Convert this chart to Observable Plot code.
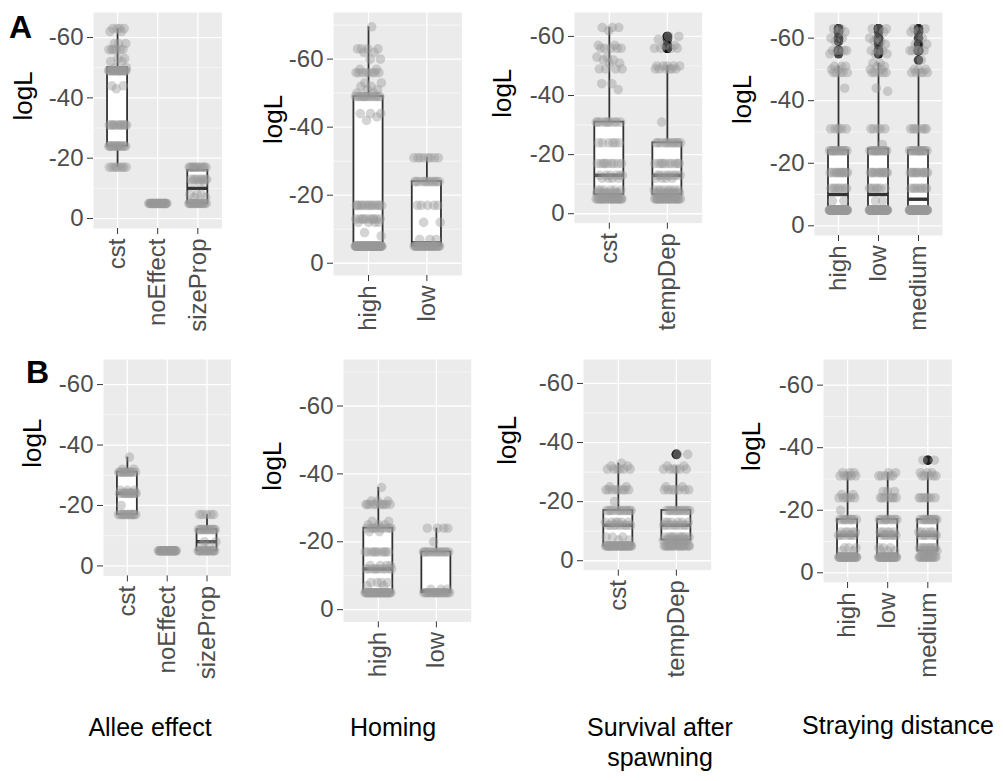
<!DOCTYPE html>
<html><head><meta charset="utf-8">
<script src="https://cdn.jsdelivr.net/npm/d3@7"></script>
<script src="https://cdn.jsdelivr.net/npm/@observablehq/plot@0.6"></script>
<style>
body{margin:0;background:#fff}
#root{position:relative;width:1003px;height:781px;overflow:hidden;background:#fff}
.pp{position:absolute}
.pp svg{overflow:visible;background:transparent;max-width:none !important}
#overlay{position:absolute;left:0;top:0}
</style></head><body><div id="root"></div>
<script>
// ---------- data: [logL value, number of runs] ----------
// Row A
const allee_A_cst      = [[-63,4],[-62,2],[-58,3],[-56,6],[-53,2],[-52,2],[-50,2],[-49,22],[-44,2],[-43,1],[-31,12],[-24,15],[-17,8]];
const allee_A_noEffect = [[-5,30]];
const allee_A_sizeProp = [[-17,12],[-13,8],[-12,3],[-8,3],[-7,2],[-5,18]];
const homing_A_high = [[-69.5,1],[-63,4],[-62,2],[-60,2],[-57,2],[-56,8],[-53,2],[-52,2],[-51,2],[-50,2],[-49,14],[-44,3],[-43,1],[-42,1],[-17,14],[-13,10],[-12,4],[-9,1],[-8,1],[-5,80]];
const homing_A_low  = [[-31,8],[-24,12],[-17,5],[-12,2],[-7,3],[-5,30]];
const survival_A_cst     = [[-63,3],[-62,1],[-57,2],[-56,5],[-53,2],[-52,2],[-51,2],[-49,4],[-44,2],[-42,1],[-31,10],[-24,6],[-17,9],[-13,6],[-12,4],[-8,6],[-7,10],[-5,25]];
const survival_A_tempDep = [[-60,2],[-59,1],[-57,2],[-56,4],[-50,5],[-49,6],[-31,1],[-24,12],[-17,10],[-13,8],[-12,4],[-8,8],[-7,12],[-5,25]];
const straying_A_high   = [[-63,2],[-62,2],[-60,2],[-59,1],[-56,5],[-55,1],[-51,3],[-50,2],[-49,5],[-44,1],[-31,6],[-24,14],[-17,12],[-12,8],[-8,2],[-5,62]];
const straying_A_low    = [[-63,3],[-62,1],[-60,2],[-59,2],[-58,1],[-56,3],[-55,2],[-52,2],[-51,2],[-50,2],[-49,5],[-44,1],[-43,1],[-31,5],[-26,1],[-24,14],[-17,12],[-12,7],[-8,2],[-5,64]];
const straying_A_medium = [[-63,2],[-62,2],[-60,1],[-58,2],[-56,5],[-53,1],[-50,3],[-49,5],[-31,7],[-24,14],[-17,12],[-12,8],[-5,62]];
// Row B
const allee_B_cst      = [[-36,1],[-32,2],[-31,12],[-25,3],[-24,12],[-20,1],[-17,14]];
const allee_B_noEffect = [[-5,30]];
const allee_B_sizeProp = [[-17,5],[-12,13],[-8,2],[-7,2],[-5,16]];
const homing_B_high = [[-36,1],[-32,3],[-31,10],[-26,2],[-25,3],[-24,10],[-23,2],[-17,10],[-13,4],[-12,10],[-8,4],[-7,2],[-5,35]];
const homing_B_low  = [[-24,4],[-20,1],[-17,14],[-6,3],[-5,22]];
const survival_B_cst     = [[-33,1],[-32,2],[-31,6],[-25,2],[-24,8],[-20,1],[-17,12],[-13,6],[-12,8],[-8,3],[-7,2],[-5,35]];
const survival_B_tempDep = [[-36,2],[-32,2],[-31,6],[-25,2],[-24,7],[-17,12],[-13,6],[-12,8],[-8,10],[-7,10],[-5,19]];
const straying_B_high   = [[-32,3],[-31,6],[-25,2],[-24,6],[-20,1],[-17,10],[-13,5],[-12,7],[-8,3],[-7,2],[-5,31]];
const straying_B_low    = [[-32,2],[-31,5],[-26,3],[-24,7],[-17,10],[-13,5],[-12,7],[-8,3],[-7,3],[-5,31]];
const straying_B_medium = [[-36,2],[-32,3],[-31,5],[-24,7],[-17,12],[-13,5],[-12,7],[-8,8],[-7,8],[-5,17]];

// category labels
const alleeCats    = ["cst","noEffect","sizeProp"];
const homingCats   = ["high","low"];
const survivalCats = ["cst","tempDep"];
const strayingCats = ["high","low","medium"];
// y ticks
const yMajor = [-60,-40,-20,0];
const yMinor = [-70,-50,-30,-10];
const yAxisTitle = "logL";
const rowLabels = ["A","B"];
const captions = [["Allee effect"],["Homing"],["Survival after","spawning"],["Straying distance"]];

// ---------- layout ----------
const ML = 95, MR = 4, MT = 4, MB = 125, JIT = 0.23, TICK_FONT = 24, TICK_FAMILY = "Liberation Sans";
const panels = [
  {cats: alleeCats,    series: [allee_A_cst, allee_A_noEffect, allee_A_sizeProp], left: 93.3,  top: 12,    w: 128.4, h: 216,   dom: [3.3,-68.3], lab: 70},
  {cats: homingCats,   series: [homing_A_high, homing_A_low],                     left: 333.3, top: 12,    w: 128.4, h: 263,   dom: [3.6,-73.7], lab: 60},
  {cats: survivalCats, series: [survival_A_cst, survival_A_tempDep],              left: 574,   top: 12,    w: 127.7, h: 210.7, dom: [3.2,-68.1], lab: 72},
  {cats: strayingCats, series: [straying_A_high, straying_A_low, straying_A_medium], left: 814.3, top: 12, w: 128,   h: 223,   dom: [3.1,-68.2], lab: 72},
  {cats: alleeCats,    series: [allee_B_cst, allee_B_noEffect, allee_B_sizeProp], left: 103.3, top: 359.3, w: 127.4, h: 216.4, dom: [3.3,-68.3], lab: 71},
  {cats: homingCats,   series: [homing_B_high, homing_B_low],                     left: 343.3, top: 359.3, w: 127.7, h: 262.4, dom: [3.6,-73.7], lab: 71},
  {cats: survivalCats, series: [survival_B_cst, survival_B_tempDep],              left: 583.3, top: 359.3, w: 127.7, h: 210.7, dom: [3.2,-68.1], lab: 76},
  {cats: strayingCats, series: [straying_B_high, straying_B_low, straying_B_medium], left: 823.3, top: 359.3, w: 128.4, h: 223, dom: [3.1,-68.2], lab: 72}
];

function makePlot(p) {
  const n = p.cats.length, idx = d3.range(n);
  const points = [], stats = [], outl = [];
  p.series.forEach((pairs, i) => {
    const vals = [];
    pairs.forEach(([v, c]) => { for (let k = 0; k < c; k++) vals.push(v); });
    vals.sort(d3.ascending);
    vals.forEach((v, k) => points.push({i, v, j: (((k + 1) * 0.6180339887 + i * 0.31) % 1 - 0.5) * 2 * JIT}));
    const q1 = d3.quantile(vals, 0.25), med = d3.quantile(vals, 0.5), q3 = d3.quantile(vals, 0.75);
    const iqr = q3 - q1, lo = q1 - 1.5 * iqr, hi = q3 + 1.5 * iqr;
    const inside = vals.filter(v => v >= lo && v <= hi);
    stats.push({i, q1, med, q3, lo: d3.min(inside), hi: d3.max(inside)});
    vals.filter(v => v < lo || v > hi).forEach(v => outl.push({i, v}));
  });
  const lo = Math.min(...p.dom), hi = Math.max(...p.dom);
  const minor = yMinor.filter(d => d >= lo && d <= hi);
  const axisMarks = typeof Plot.axisY === "function";
  const xOpts = {domain: [-0.6, n - 0.4], label: null};
  const yOpts = {domain: p.dom, label: null};
  const xAxisOpts = {ticks: idx, tickFormat: i => p.cats[i], tickRotate: -90, tickSize: 6, tickPadding: 4};
  const yAxisOpts = {ticks: yMajor, tickFormat: d => String(d), tickSize: 6, tickPadding: 4};
  if (!axisMarks) { Object.assign(xOpts, xAxisOpts); Object.assign(yOpts, yAxisOpts); }
  const marks = [
    Plot.frame({fill: "#EBEBEB", stroke: "none"}),
    Plot.ruleY(minor, {stroke: "white", strokeWidth: 0.6}),
    Plot.ruleY(yMajor, {stroke: "white", strokeWidth: 1.3}),
    Plot.ruleX(idx, {stroke: "white", strokeWidth: 1.3}),
    Plot.ruleX(stats, {x: "i", y1: "lo", y2: "q1", stroke: "#333", strokeWidth: 1.8}),
    Plot.ruleX(stats, {x: "i", y1: "q3", y2: "hi", stroke: "#333", strokeWidth: 1.8}),
    Plot.rect(stats, {x1: d => d.i - 0.25, x2: d => d.i + 0.25, y1: "q1", y2: "q3", fill: "white", stroke: "#333", strokeWidth: 1.8}),
    Plot.ruleY(stats, {y: "med", x1: d => d.i - 0.25, x2: d => d.i + 0.25, stroke: "#333", strokeWidth: 3.4}),
    Plot.dot(outl, {x: "i", y: "v", r: 4.8, fill: "#111", fillOpacity: 0.75, stroke: "none"}),
    Plot.dot(points, {x: d => d.i + d.j, y: "v", r: 4.8, fill: "#999", fillOpacity: 0.42, stroke: "none"}),
    Plot.text([yAxisTitle], {frameAnchor: "left", dx: -p.lab, rotate: -90, fontSize: 26, fill: "black", fontFamily: "Liberation Sans"})
  ];
  if (axisMarks) {
    marks.push(
      Plot.axisY(yMajor, {tickSize: 6, tickPadding: 4, tickFormat: d => String(d), fontSize: TICK_FONT, fontFamily: TICK_FAMILY, fill: "#4D4D4D", stroke: "#333", label: null}),
      Plot.axisX(idx, {tickSize: 6, tickPadding: 4, tickRotate: -90, tickFormat: i => p.cats[i], fontSize: TICK_FONT, fontFamily: TICK_FAMILY, fill: "#4D4D4D", stroke: "#333", label: null})
    );
  }
  return Plot.plot({
    width: ML + p.w + MR, height: MT + p.h + MB,
    marginLeft: ML, marginRight: MR, marginTop: MT, marginBottom: MB,
    style: {fontFamily: TICK_FAMILY, fontSize: TICK_FONT + "px", color: "#4D4D4D", background: "transparent", overflow: "visible"},
    x: xOpts, y: yOpts, marks
  });
}

const root = document.getElementById("root");
panels.forEach(p => {
  const div = document.createElement("div");
  div.className = "pp";
  div.style.left = (p.left - ML) + "px";
  div.style.top = (p.top - MT) + "px";
  div.appendChild(makePlot(p));
  root.appendChild(div);
});

// overlay text: row letters and column captions
const NS = "http://www.w3.org/2000/svg";
const ov = document.createElementNS(NS, "svg");
ov.setAttribute("id", "overlay"); ov.setAttribute("width", 1003); ov.setAttribute("height", 781);
function addText(str, x, y, opts) {
  const t = document.createElementNS(NS, "text");
  t.textContent = str;
  t.setAttribute("x", x); t.setAttribute("y", y);
  t.setAttribute("font-family", "Liberation Sans, Arial, sans-serif");
  t.setAttribute("font-size", opts.size);
  if (opts.bold) t.setAttribute("font-weight", "bold");
  t.setAttribute("text-anchor", opts.anchor || "start");
  t.setAttribute("fill", "black");
  ov.appendChild(t);
}
const rowLabelPos = [[9, 38], [26, 383]];
rowLabels.forEach((s, k) => addText(s, rowLabelPos[k][0], rowLabelPos[k][1], {size: 32, bold: true}));
const capPos = [[150, 736], [393, 736], [660, 736], [898, 734]];
captions.forEach((lines, k) => lines.forEach((s, l) => addText(s, capPos[k][0], capPos[k][1] + l * 30, {size: 25, anchor: "middle"})));
root.appendChild(ov);
</script></body></html>
